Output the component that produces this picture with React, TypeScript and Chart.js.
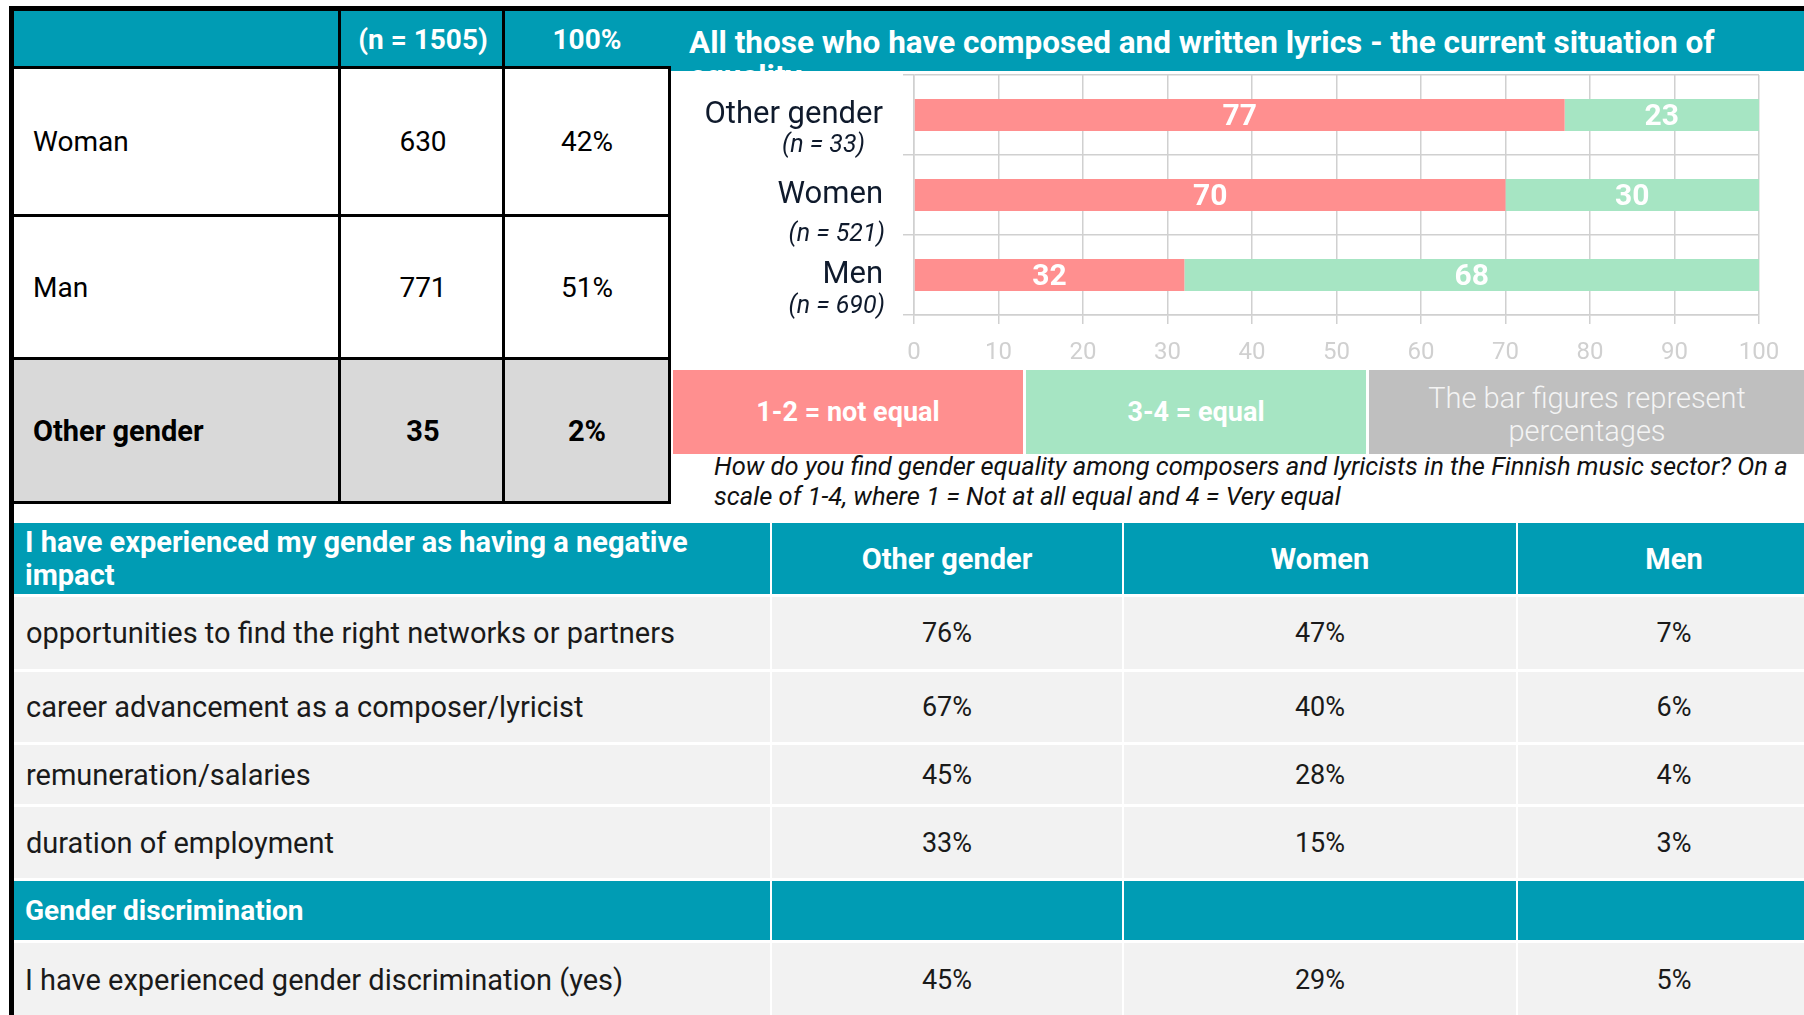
import React, { useEffect, useRef } from 'react';
import { Chart, registerables } from 'chart.js';

Chart.register(...registerables);

const TEAL = '#009CB4';
const RED = '#FF8F8F';
const GREEN = '#A6E5C3';
const NOTE_GRAY = '#BFBFBF';
const FONT = 'Roboto, "Noto Sans", sans-serif';

// ---- Top-left respondent table ----
const respondentHeader = ['', '(n = 1505)', '100%'];
const respondentGroups = ['Woman', 'Man', 'Other gender'];
const respondentCounts = [630, 771, 35];
const respondentShares = [42, 51, 2];

// ---- Bar chart ----
const chartTitle = 'All those who have composed and written lyrics - the current situation of';
const chartTitleCont = 'equality';
const chartGroups = ['Other gender', 'Women', 'Men'];
const chartGroupN = ['(n = 33)', '(n = 521)', '(n = 690)'];
const notEqualPct = [77, 70, 32];
const equalPct = [23, 30, 68];
const legendNotEqual = '1-2 = not equal';
const legendEqual = '3-4 = equal';
const noteLines = ['The bar figures represent', 'percentages'];
const questionLines = [
  'How do you find gender equality among composers and lyricists in the Finnish music sector? On a',
  'scale of 1-4, where 1 = Not at all equal and 4 = Very equal',
];

// ---- Bottom table ----
const impactHeader = ['I have experienced my gender as having a negative', 'impact'];
const impactColumns = ['Other gender', 'Women', 'Men'];
const impactItems = [
  'opportunities to find the right networks or partners',
  'career advancement as a composer/lyricist',
  'remuneration/salaries',
  'duration of employment',
];
const impactOther = [76, 67, 45, 33];
const impactWomen = [47, 40, 28, 15];
const impactMen = [7, 6, 4, 3];
const discriminationHeader = 'Gender discrimination';
const discriminationItem = 'I have experienced gender discrimination (yes)';
const discriminationValues = [45, 29, 5];

// layout constants (positions, not data)
const subLabelRight = [193, 213, 213];
const subLabelDrop = [37, 46, 38];

const abs = (left: number, top: number, width: number, height: number, extra: any = {}) => ({
  position: 'absolute' as const,
  left,
  top,
  width,
  height,
  ...extra,
});

const centerCell = (extra: any = {}) => ({
  display: 'flex',
  alignItems: 'center',
  justifyContent: 'center',
  whiteSpace: 'nowrap' as const,
  ...extra,
});

function BarChart() {
  const ref = useRef<HTMLCanvasElement | null>(null);
  useEffect(() => {
    const canvas = ref.current;
    if (!canvas) return;
    Chart.defaults.font.family = FONT;
    const labelPlugin = {
      id: 'barLabels',
      afterDatasetsDraw(chart: any) {
        const ctx = chart.ctx;
        ctx.save();
        ctx.font = `bold 30px ${FONT}`;
        ctx.fillStyle = '#ffffff';
        ctx.textAlign = 'center';
        ctx.textBaseline = 'middle';
        chart.data.datasets.forEach((ds: any, di: number) => {
          const meta = chart.getDatasetMeta(di);
          meta.data.forEach((bar: any, i: number) => {
            const p = bar.getProps(['x', 'y', 'base'], true);
            ctx.fillText(String(ds.data[i]), (p.x + p.base) / 2, p.y + 2);
          });
        });
        const yScale = chart.scales.y;
        ctx.font = `italic 25px ${FONT}`;
        ctx.fillStyle = '#0f1a2c';
        ctx.textAlign = 'right';
        ctx.textBaseline = 'alphabetic';
        chartGroupN.forEach((t, i) => {
          ctx.fillText(t, subLabelRight[i], yScale.getPixelForValue(i) + subLabelDrop[i]);
        });
        ctx.restore();
      },
    };
    const chart = new Chart(canvas, {
      type: 'bar',
      data: {
        labels: chartGroups,
        datasets: [
          {
            label: legendNotEqual,
            data: notEqualPct,
            backgroundColor: RED,
            barPercentage: 0.4,
            categoryPercentage: 1,
            borderWidth: 0,
          },
          {
            label: legendEqual,
            data: equalPct,
            backgroundColor: GREEN,
            barPercentage: 0.4,
            categoryPercentage: 1,
            borderWidth: 0,
          },
        ],
      },
      options: {
        indexAxis: 'y',
        responsive: false,
        animation: false,
        layout: { padding: { top: 4, right: 45, left: 0, bottom: 0 } },
        plugins: { legend: { display: false }, tooltip: { enabled: false } },
        scales: {
          x: {
            stacked: true,
            min: 0,
            max: 100,
            ticks: {
              stepSize: 10,
              color: '#d0d0d0',
              font: { family: FONT, size: 24 },
              padding: 15,
            },
            grid: { color: '#d0d0d0', lineWidth: 1.5, tickLength: 9 },
            border: { color: '#d0d0d0', width: 1.5 },
            afterFit: (s: any) => {
              s.height = 55;
              s.paddingLeft = 0;
              s.paddingRight = 0;
              s.paddingTop = 0;
              s.paddingBottom = 0;
            },
          },
          y: {
            stacked: true,
            ticks: {
              color: '#0f1a2c',
              font: { family: FONT, size: 31 },
              padding: 20,
            },
            grid: { color: '#d0d0d0', lineWidth: 1.5, tickLength: 11, offset: true },
            border: { color: '#d0d0d0', width: 1.5 },
            afterFit: (s: any) => {
              s.width = 242;
              s.paddingLeft = 0;
              s.paddingRight = 0;
              s.paddingTop = 0;
              s.paddingBottom = 0;
            },
          },
        },
      },
      plugins: [labelPlugin],
    } as any);
    return () => chart.destroy();
  }, []);
  return <canvas ref={ref} width={1132} height={299} style={abs(672, 71, 1132, 299, { display: 'block' })} />;
}

export default function App() {
  // top table geometry
  const topCols = [14, 341, 505, 669];
  const topRows = [[69, 214], [217, 357], [360, 501]];
  // bottom table geometry
  const botCols = [[14, 770], [772, 1122], [1124, 1516], [1518, 1830]];
  const botRows = [[597, 669], [672, 742], [745, 804], [807, 878]];
  const headRow = [523, 594];
  const sectRow = [881, 940];
  const lastRow = [943, 1020];
  const impactValues = [impactOther, impactWomen, impactMen];

  return (
    <div
      style={{
        position: 'absolute',
        left: 0,
        top: 0,
        width: 1804,
        height: 1015,
        overflow: 'hidden',
        background: '#ffffff',
        fontFamily: FONT,
        color: '#111111',
      }}
    >
      {/* top-left table header */}
      <div style={abs(14, 11, 656, 56, { background: TEAL })} />
      {respondentHeader.map((h, c) =>
        c === 0 ? null : (
          <div
            key={'rh' + c}
            style={abs(topCols[c], 11, topCols[c + 1] - topCols[c], 56, centerCell({ color: '#fff', fontWeight: 700, fontSize: 28 }))}
          >
            {h}
          </div>
        )
      )}
      {respondentGroups.map((g, r) => {
        const [t, b] = topRows[r];
        const bold = r === 2;
        const bg = r === 2 ? '#D9D9D9' : '#ffffff';
        const fs = bold ? 29 : 28;
        return (
          <React.Fragment key={'rr' + r}>
            <div style={abs(14, t, 655, b - t, { background: bg })} />
            <div
              style={abs(14, t, 326, b - t, {
                display: 'flex',
                alignItems: 'center',
                paddingLeft: 19,
                boxSizing: 'border-box',
                fontSize: fs,
                fontWeight: bold ? 700 : 400,
                color: '#000',
                whiteSpace: 'nowrap',
              })}
            >
              {g}
            </div>
            <div style={abs(topCols[1], t, topCols[2] - topCols[1], b - t, centerCell({ fontSize: fs, fontWeight: bold ? 700 : 400, color: '#000' }))}>
              {respondentCounts[r]}
            </div>
            <div style={abs(topCols[2], t, topCols[3] - topCols[2], b - t, centerCell({ fontSize: fs, fontWeight: bold ? 700 : 400, color: '#000' }))}>
              {respondentShares[r]}%
            </div>
          </React.Fragment>
        );
      })}
      {/* top table black rules */}
      {[66, 214, 357, 501].map((y) => (
        <div key={'hl' + y} style={abs(9, y, 662, 3, { background: '#000' })} />
      ))}
      <div style={abs(338, 11, 3, 493, { background: '#000' })} />
      <div style={abs(502, 11, 3, 493, { background: '#000' })} />

      {/* chart title band */}
      <div
        style={abs(670, 11, 1134, 60, {
          background: TEAL,
          overflow: 'hidden',
          color: '#fff',
          fontWeight: 700,
          fontSize: 31.5,
          lineHeight: '34px',
          paddingLeft: 19,
          paddingTop: 15,
          boxSizing: 'border-box',
          whiteSpace: 'nowrap',
        })}
      >
        {chartTitle}
        <br />
        {chartTitleCont}
      </div>

      {/* chart */}
      <BarChart />
      <div style={abs(668, 66, 3, 438, { background: '#000' })} />

      {/* legend boxes */}
      <div style={abs(673, 370, 350, 84, centerCell({ background: RED, color: '#fff', fontWeight: 700, fontSize: 27 }))}>{legendNotEqual}</div>
      <div style={abs(1026, 370, 340, 84, centerCell({ background: GREEN, color: '#fff', fontWeight: 700, fontSize: 27 }))}>{legendEqual}</div>
      <div
        style={abs(1369, 370, 440, 84, {
          background: NOTE_GRAY,
          color: '#F4F4F4',
          fontWeight: 300,
          fontSize: 29,
          lineHeight: '33px',
          display: 'flex',
          flexDirection: 'column',
          alignItems: 'center',
          justifyContent: 'center',
          whiteSpace: 'nowrap',
          paddingTop: 6,
          paddingRight: 4,
          boxSizing: 'border-box',
        })}
      >
        <div>{noteLines[0]}</div>
        <div>{noteLines[1]}</div>
      </div>

      {/* question */}
      <div
        style={abs(714, 451, 1100, 62, {
          fontStyle: 'italic',
          fontSize: 25.5,
          lineHeight: '30px',
          color: '#111',
          whiteSpace: 'nowrap',
        })}
      >
        {questionLines[0]}
        <br />
        {questionLines[1]}
      </div>

      {/* bottom table header */}
      {botCols.map(([l, r], c) => (
        <div key={'bh' + c} style={abs(l, headRow[0], r - l, headRow[1] - headRow[0], { background: TEAL })} />
      ))}
      <div
        style={abs(14, headRow[0], 756, headRow[1] - headRow[0], {
          display: 'flex',
          alignItems: 'center',
          paddingLeft: 11,
          boxSizing: 'border-box',
          color: '#fff',
          fontWeight: 700,
          fontSize: 29,
          lineHeight: '33px',
          whiteSpace: 'nowrap',
        })}
      >
        <div>
          {impactHeader[0]}
          <br />
          {impactHeader[1]}
        </div>
      </div>
      {impactColumns.map((h, c) => {
        const [l, r] = botCols[c + 1];
        return (
          <div key={'bc' + c} style={abs(l, headRow[0], r - l, headRow[1] - headRow[0], centerCell({ color: '#fff', fontWeight: 700, fontSize: 29 }))}>
            {h}
          </div>
        );
      })}

      {/* impact rows */}
      {impactItems.map((item, r) => {
        const [t, b] = botRows[r];
        return (
          <React.Fragment key={'ir' + r}>
            {botCols.map(([l, rr], c) => (
              <div key={'ibg' + c} style={abs(l, t, rr - l, b - t, { background: '#F2F2F2' })} />
            ))}
            <div
              style={abs(14, t, 756, b - t, {
                display: 'flex',
                alignItems: 'center',
                paddingLeft: 12,
                boxSizing: 'border-box',
                fontSize: 29,
                color: '#1a1a1a',
                whiteSpace: 'nowrap',
              })}
            >
              {item}
            </div>
            {impactValues.map((vals, c) => {
              const [l, rr] = botCols[c + 1];
              return (
                <div key={'iv' + c} style={abs(l, t, rr - l, b - t, centerCell({ fontSize: 27, color: '#1a1a1a' }))}>
                  {vals[r]}%
                </div>
              );
            })}
          </React.Fragment>
        );
      })}

      {/* discrimination section */}
      {botCols.map(([l, r], c) => (
        <div key={'sh' + c} style={abs(l, sectRow[0], r - l, sectRow[1] - sectRow[0], { background: TEAL })} />
      ))}
      <div
        style={abs(14, sectRow[0], 756, sectRow[1] - sectRow[0], {
          display: 'flex',
          alignItems: 'center',
          paddingLeft: 11,
          boxSizing: 'border-box',
          color: '#fff',
          fontWeight: 700,
          fontSize: 28,
          whiteSpace: 'nowrap',
        })}
      >
        {discriminationHeader}
      </div>
      {botCols.map(([l, r], c) => (
        <div key={'lr' + c} style={abs(l, lastRow[0], r - l, lastRow[1] - lastRow[0], { background: '#F2F2F2' })} />
      ))}
      <div
        style={abs(14, lastRow[0], 756, 73, {
          display: 'flex',
          alignItems: 'center',
          paddingLeft: 11,
          boxSizing: 'border-box',
          fontSize: 29,
          color: '#1a1a1a',
          whiteSpace: 'nowrap',
        })}
      >
        {discriminationItem}
      </div>
      {discriminationValues.map((v, c) => {
        const [l, r] = botCols[c + 1];
        return (
          <div key={'dv' + c} style={abs(l, lastRow[0], r - l, 73, centerCell({ fontSize: 27, color: '#1a1a1a' }))}>
            {v}%
          </div>
        );
      })}

      {/* outer frame */}
      <div style={abs(9, 6, 1795, 5, { background: '#000' })} />
      <div style={abs(9, 6, 5, 1009, { background: '#000' })} />
    </div>
  );
}
